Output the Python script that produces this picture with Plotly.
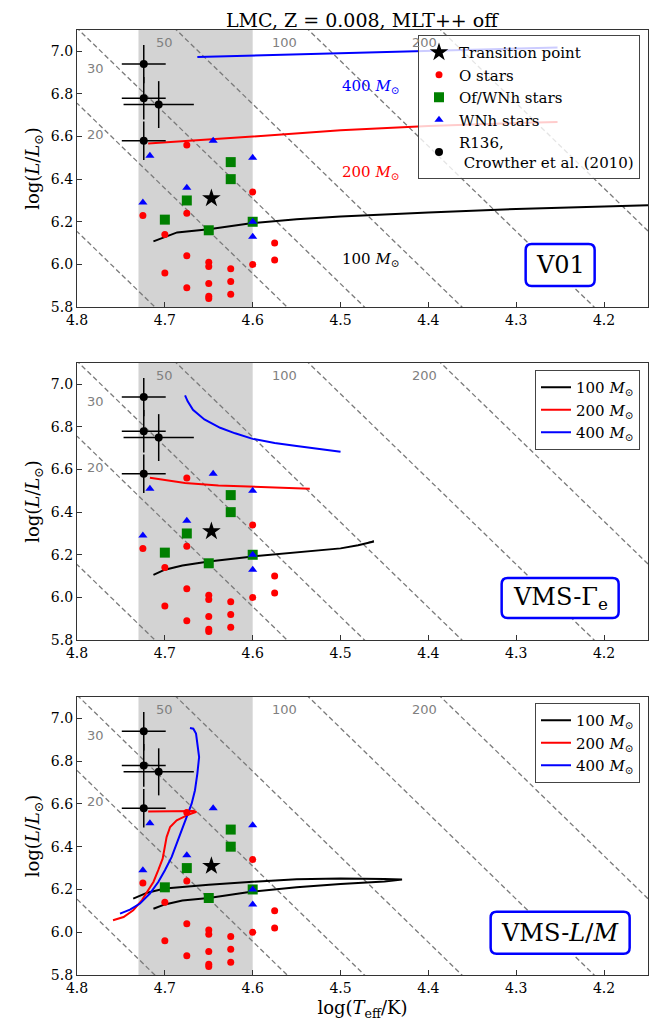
import numpy as np
import plotly.graph_objects as go

# ---------------- data ----------------
# observed stars (same in every panel)
o_logT = [4.675, 4.60, 4.725, 4.675, 4.70, 4.575, 4.575, 4.675, 4.65, 4.65, 4.60, 4.625, 4.70, 4.625, 4.65, 4.675, 4.625, 4.65, 4.65]
o_logL = [6.56, 6.34, 6.23, 6.24, 6.14, 6.10, 6.02, 6.04, 6.01, 5.99, 6.00, 5.98, 5.96, 5.92, 5.91, 5.89, 5.86, 5.85, 5.84]
ofwnh_logT = [4.625, 4.625, 4.675, 4.70, 4.60, 4.65]
ofwnh_logL = [6.48, 6.40, 6.30, 6.21, 6.20, 6.16]
wnh_logT = [4.645, 4.717, 4.60, 4.675, 4.725, 4.60, 4.60]
wnh_logL = [6.58, 6.51, 6.50, 6.36, 6.29, 6.20, 6.13]
r136_logT = [4.724, 4.724, 4.707, 4.724]
r136_logL = [6.94, 6.78, 6.75, 6.58]
r136_errT = [0.025, 0.025, 0.04, 0.025]
r136_errL = [0.09, 0.10, 0.11, 0.09]
trans_logT = [4.647]
trans_logL = [6.31]

# constant-radius lines (R in R_sun) and their labels
radii = [10, 20, 30, 50, 100, 200]
radius_labels = ["20", "30", "50", "100", "200"]
radius_label_logT = [4.779, 4.779, 4.70, 4.564, 4.404]
radius_label_logL = [6.61, 6.92, 7.04, 7.04, 7.04]

# evolutionary tracks, panel 1 (V01)
v01_100_logT = [4.713, 4.70, 4.686, 4.65, 4.60, 4.55, 4.50, 4.40, 4.30, 4.15]
v01_100_logL = [6.108, 6.13, 6.15, 6.165, 6.194, 6.212, 6.225, 6.243, 6.26, 6.277]
v01_200_logT = [4.719, 4.70, 4.65, 4.60, 4.50, 4.40, 4.30, 4.253]
v01_200_logL = [6.567, 6.572, 6.585, 6.60, 6.63, 6.65, 6.663, 6.668]
v01_400_logT = [4.663, 4.60, 4.50, 4.40, 4.30, 4.253]
v01_400_logL = [6.973, 6.98, 6.99, 7.003, 7.013, 7.018]

# panel 2 (VMS-Gamma_e)
gam_100_logT = [4.713, 4.70, 4.68, 4.65, 4.60, 4.55, 4.50, 4.48, 4.47, 4.462, 4.468]
gam_100_logL = [6.106, 6.13, 6.15, 6.168, 6.192, 6.21, 6.23, 6.245, 6.255, 6.262, 6.258]
gam_200_logT = [4.717, 4.70, 4.677, 4.639, 4.60, 4.57, 4.535]
gam_200_logL = [6.561, 6.552, 6.537, 6.525, 6.519, 6.515, 6.51]
gam_400_logT = [4.677, 4.674, 4.668, 4.655, 4.637, 4.62, 4.60, 4.575, 4.55, 4.525, 4.50]
gam_400_logL = [6.948, 6.92, 6.88, 6.835, 6.796, 6.77, 6.744, 6.725, 6.71, 6.695, 6.683]

# panel 3 (VMS-L/M)
lm_100_logT = [4.713, 4.70, 4.68, 4.65, 4.60, 4.55, 4.50, 4.45, 4.43, 4.45, 4.50, 4.55, 4.60, 4.65, 4.70, 4.72, 4.736]
lm_100_logL = [6.11, 6.13, 6.148, 6.16, 6.19, 6.21, 6.225, 6.237, 6.246, 6.249, 6.251, 6.248, 6.236, 6.222, 6.204, 6.185, 6.157]
lm_200_logT = [4.719, 4.70, 4.68, 4.667, 4.664, 4.672, 4.6865, 4.694, 4.698, 4.7006, 4.7025, 4.7075, 4.713, 4.719, 4.726, 4.736, 4.747, 4.759]
lm_200_logL = [6.565, 6.565, 6.566, 6.567, 6.563, 6.552, 6.523, 6.492, 6.445, 6.383, 6.344, 6.29, 6.235, 6.196, 6.15, 6.103, 6.071, 6.056]
lm_400_logT = [4.6714, 4.6676, 4.6645, 4.663, 4.661, 4.663, 4.6657, 4.6695, 4.6752, 4.681, 4.6865, 4.6922, 4.6999, 4.7075, 4.717, 4.7283, 4.7397, 4.751]
lm_400_logL = [6.955, 6.952, 6.929, 6.882, 6.819, 6.742, 6.664, 6.601, 6.539, 6.477, 6.414, 6.352, 6.29, 6.235, 6.181, 6.134, 6.106, 6.087]

panel_names = ["V01", "VMS-Γ<sub>e</sub>", "VMS-<i>L</i>/<i>M</i>"]
mass_labels = ["100 <i>M</i><sub>⊙</sub>", "200 <i>M</i><sub>⊙</sub>", "400 <i>M</i><sub>⊙</sub>"]
title_text = "LMC, Z = 0.008, MLT++ off"

tracks = [
    [(v01_100_logT, v01_100_logL), (v01_200_logT, v01_200_logL), (v01_400_logT, v01_400_logL)],
    [(gam_100_logT, gam_100_logL), (gam_200_logT, gam_200_logL), (gam_400_logT, gam_400_logL)],
    [(lm_100_logT, lm_100_logL), (lm_200_logT, lm_200_logL), (lm_400_logT, lm_400_logL)],
]
track_colors = ["black", "red", "blue"]

# ---------------- figure ----------------
SERIF = "DejaVu Serif"
fig = go.Figure()

# the page body has an 8px default margin: work in page pixels and shift
OFF = 8
W, H = 660 - OFF, 1036 - OFF
PLOT_L, PLOT_R, PLOT_T, PLOT_B = 77 - OFF, 648 - OFF, 30 - OFF, 975 - OFF
ML, MR, MT, MB = PLOT_L, W - PLOT_R, PLOT_T, H - PLOT_B
plot_h = PLOT_B - PLOT_T
panel_px = [(30 - OFF, 307 - OFF), (363 - OFF, 640 - OFF), (697 - OFF, 975 - OFF)]
domains = [[(PLOT_B - b) / plot_h, (PLOT_B - t) / plot_h] for t, b in panel_px]


def py(page_y):
    return (PLOT_B - (page_y - OFF)) / plot_h


XR = [4.8, 4.15]
YR = [5.8, 7.1]
logT_sun = np.log10(5772.0)
xs_line = np.linspace(XR[1], XR[0], 60)

label_boxes = [69, 117, 139]
label_box_h = [42, 40, 42]


def rrect(w, h, r):
    x0, x1, y0, y1 = -w / 2, w / 2, -h / 2, h / 2
    return (f"M{x0 + r},{y0} L{x1 - r},{y0} Q{x1},{y0} {x1},{y0 + r} "
            f"L{x1},{y1 - r} Q{x1},{y1} {x1 - r},{y1} L{x0 + r},{y1} "
            f"Q{x0},{y1} {x0},{y1 - r} L{x0},{y0 + r} Q{x0},{y0} {x0 + r},{y0} Z")


for p in range(3):
    sfx = "" if p == 0 else str(p + 1)
    xa, ya = "x" + sfx, "y" + sfx
    leg = "legend" if p == 0 else "legend" + str(p + 1)

    # shaded region
    fig.add_shape(type="rect", xref=xa, yref=ya + " domain", x0=4.73, x1=4.60, y0=0, y1=1,
                  fillcolor="#d3d3d3", line_width=0, layer="below")

    # constant radius lines
    for R in radii:
        fig.add_trace(go.Scatter(x=xs_line, y=2 * np.log10(R) + 4 * (xs_line - logT_sun),
                                 mode="lines", line=dict(color="#7a7a7a", width=1.3, dash="5px,3px"),
                                 xaxis=xa, yaxis=ya, showlegend=False, hoverinfo="skip"))
    for lab, lx, ly in zip(radius_labels, radius_label_logT, radius_label_logL):
        fig.add_annotation(x=lx, y=ly, xref=xa, yref=ya, text=lab, showarrow=False,
                           font=dict(family="DejaVu Sans", size=13, color="#808080"))

    # tracks
    for k, ((tx, ty), col) in enumerate(zip(tracks[p], track_colors)):
        fig.add_trace(go.Scatter(x=tx, y=ty, mode="lines", line=dict(color=col, width=2),
                                 name=mass_labels[k], xaxis=xa, yaxis=ya,
                                 showlegend=(p > 0), legend=leg))

    show = (p == 0)
    fig.add_trace(go.Scatter(x=trans_logT, y=trans_logL, mode="markers", name="Transition point",
                             marker=dict(symbol="star", size=14, color="black"),
                             xaxis=xa, yaxis=ya, showlegend=show, legend=leg))
    fig.add_trace(go.Scatter(x=o_logT, y=o_logL, mode="markers", name="O stars",
                             marker=dict(symbol="circle", size=7, color="red"),
                             xaxis=xa, yaxis=ya, showlegend=show, legend=leg))
    fig.add_trace(go.Scatter(x=ofwnh_logT, y=ofwnh_logL, mode="markers", name="Of/WNh stars",
                             marker=dict(symbol="square", size=10, color="green"),
                             xaxis=xa, yaxis=ya, showlegend=show, legend=leg))
    fig.add_trace(go.Scatter(x=wnh_logT, y=wnh_logL, mode="markers", name="WNh stars",
                             marker=dict(symbol="triangle-up", size=8, color="blue"),
                             xaxis=xa, yaxis=ya, showlegend=show, legend=leg))
    fig.add_trace(go.Scatter(x=r136_logT, y=r136_logL, mode="markers",
                             name="R136,<br> Crowther et al. (2010)",
                             marker=dict(symbol="circle", size=8, color="black"),
                             error_x=dict(type="data", array=r136_errT, color="black", thickness=1.5, width=0),
                             error_y=dict(type="data", array=r136_errL, color="black", thickness=1.5, width=0),
                             xaxis=xa, yaxis=ya, showlegend=show, legend=leg))

    # panel label box
    fig.add_shape(type="path", xref=xa, yref=ya, xsizemode="pixel", ysizemode="pixel",
                  xanchor=4.25, yanchor=5.997, path=rrect(label_boxes[p], label_box_h[p], 6),
                  fillcolor="white", line=dict(color="blue", width=2.5), layer="above")
    fig.add_annotation(x=4.25, y=5.997, xref=xa, yref=ya, text=panel_names[p], showarrow=False,
                       font=dict(family=SERIF, size=24, color="black"))

    axis_common = dict(showline=True, mirror=True, linecolor="#333333", linewidth=1.2,
                       ticks="inside", ticklen=5, tickcolor="#333333", showgrid=False, zeroline=False,
                       automargin=False,
                       tickfont=dict(family=SERIF, size=14, color="black"))
    xkw = dict(range=XR, dtick=0.1, tick0=4.2, tickformat=".1f", anchor=ya, domain=[0, 1], **axis_common)
    if p == 2:
        xkw["title"] = dict(text="log(<i>T</i><sub>eff</sub>/K)", font=dict(family=SERIF, size=18, color="black"), standoff=6)
    ykw = dict(range=YR, dtick=0.2, tick0=5.8, tickformat=".1f", anchor=xa, domain=domains[p],
               title=dict(text="log(<i>L</i>/<i>L</i><sub>⊙</sub>)", font=dict(family=SERIF, size=18, color="black"), standoff=6),
               **axis_common)
    fig.layout["xaxis" + sfx] = xkw
    fig.layout["yaxis" + sfx] = ykw

# track labels in first panel
for lab, ly, col in zip(mass_labels, [6.021, 6.429, 6.833], track_colors):
    fig.add_annotation(x=4.465, y=ly, xref="x", yref="y", text=lab, showarrow=False,
                       font=dict(family=SERIF, size=15, color=col))

# title as an annotation above the top panel
fig.add_annotation(x=0.5, y=PLOT_B / plot_h, xref="paper", yref="paper", xanchor="center", yanchor="top",
                   text=title_text, showarrow=False, borderpad=0,
                   font=dict(family=SERIF, size=19, color="black"))

legend_style = dict(bgcolor="rgba(255,255,255,0.8)", bordercolor="#444444", borderwidth=1,
                    font=dict(family=SERIF, size=15, color="black"), xanchor="right", yanchor="top",
                    xref="paper", yref="paper", x=(640 - 77) / (648 - 77))

fig.update_layout(
    width=W, height=H,
    margin=dict(l=ML, r=MR, t=MT, b=MB, autoexpand=False),
    paper_bgcolor="white", plot_bgcolor="white",
    legend=dict(y=py(35), **legend_style),
    legend2=dict(y=py(370), **legend_style),
    legend3=dict(y=py(703), **legend_style),
    showlegend=True,
)

fig.write_html("out.html")
